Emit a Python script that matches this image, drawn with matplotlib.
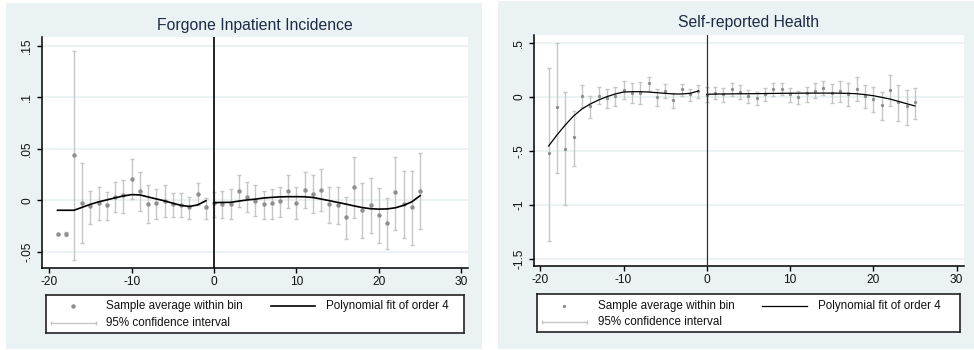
import numpy as np
import matplotlib
matplotlib.use('Agg')
import matplotlib.pyplot as plt
from matplotlib.patches import Rectangle

plt.rcParams['font.family'] = ['Liberation Sans', 'DejaVu Sans']

# Bins (months relative to cutoff)
bins = list(range(-19, 26))

# Forgone inpatient incidence: bin means and 95% CI bounds
inp_mean = [-0.0331, -0.0331, 0.0442, -0.0029, -0.0052, -0.0030, -0.0047, 0.0035, 0.0051,
            0.0209, 0.0089, -0.0036, -0.0023, -0.0010, -0.0036, -0.0046, -0.0062, 0.0061,
            -0.0068, -0.0027, -0.0039, -0.0036, 0.0090, 0.0035, -0.0004, -0.0039, -0.0023,
            -0.0004, 0.0090, -0.0023, 0.0100, 0.0061, 0.0100, -0.0036, -0.0049, -0.0165,
            0.0133, -0.0097, -0.0046, -0.0143, -0.0217, 0.0078, -0.0036, -0.0068, 0.0090]
inp_hi = [-0.0323, -0.0311, 0.1448, 0.0360, 0.0093, 0.0133, 0.0084, 0.0181, 0.0197,
          0.0403, 0.0274, 0.0149, 0.0113, 0.0149, 0.0074, 0.0068, 0.0029, 0.0171,
          0.0019, 0.0084, 0.0093, 0.0107, 0.0246, 0.0178, 0.0149, 0.0093, 0.0113,
          0.0133, 0.0246, 0.0126, 0.0275, 0.0243, 0.0301, 0.0133, 0.0133, 0.0029,
          0.0424, 0.0165, 0.0220, 0.0117, 0.0019, 0.0424, 0.0285, 0.0285, 0.0457]
inp_lo = [-0.0339, -0.0351, -0.0584, -0.0414, -0.0233, -0.0191, -0.0191, -0.0111, -0.0126,
          0.0010, -0.0105, -0.0219, -0.0178, -0.0165, -0.0165, -0.0165, -0.0183, -0.0046,
          -0.0185, -0.0165, -0.0175, -0.0182, -0.0062, -0.0110, -0.0152, -0.0182, -0.0178,
          -0.0159, -0.0078, -0.0178, -0.0078, -0.0120, -0.0104, -0.0223, -0.0233, -0.0379,
          -0.0175, -0.0369, -0.0314, -0.0412, -0.0476, -0.0288, -0.0369, -0.0437, -0.0276]

# Quartic fit, estimated separately on each side of the cutoff
fit_left_x = list(range(-19, 0))
fit_right_x = list(range(0, 26))
inp_fit_left = [-0.0097, -0.0097, -0.0097, -0.0068, -0.0039, -0.0015, 0.0004, 0.0024, 0.0042,
                0.0055, 0.0052, 0.0032, 0.0013, -0.0006, -0.0029, -0.0050, -0.0060, -0.0045,
                -0.0005]
inp_fit_right = [-0.0023, -0.0021, -0.0020, -0.0008, 0.0003, 0.0011, 0.0022, 0.0028, 0.0033,
                 0.0035, 0.0035, 0.0034, 0.0027, 0.0012, -0.0004, -0.0021, -0.0037, -0.0055,
                 -0.0071, -0.0082, -0.0086, -0.0084, -0.0073, -0.0049, -0.0015, 0.0045]

# Self-reported health: bin means and 95% CI bounds
srh_mean = [-0.521, -0.096, -0.478, -0.373, 0.012, -0.083, 0.012, -0.012, 0.012,
            0.065, 0.040, 0.040, 0.127, 0.003, 0.056, -0.028, 0.071, 0.025,
            0.056, 0.022, 0.040, 0.025, 0.074, 0.043, 0.009, -0.006, 0.025,
            0.074, 0.071, 0.025, -0.003, 0.034, 0.059, 0.086, 0.040, 0.059,
            0.025, 0.077, 0.009, -0.019, -0.074, 0.062, -0.049, -0.087, -0.049]
srh_hi = [0.266, 0.497, 0.043, -0.126, 0.111, 0.012, 0.090, 0.071, 0.096,
          0.151, 0.127, 0.142, 0.188, 0.077, 0.117, 0.034, 0.117, 0.071,
          0.111, 0.090, 0.096, 0.086, 0.127, 0.111, 0.065, 0.049, 0.080,
          0.133, 0.127, 0.086, 0.056, 0.096, 0.133, 0.151, 0.117, 0.151,
          0.127, 0.182, 0.111, 0.090, 0.049, 0.201, 0.111, 0.068, 0.085]
srh_lo = [-1.330, -0.700, -1.000, -0.639, -0.090, -0.198, -0.065, -0.099, -0.083,
          -0.022, -0.052, -0.065, 0.059, -0.083, -0.012, -0.099, 0.009, -0.034,
          -0.012, -0.043, -0.022, -0.043, 0.009, -0.022, -0.059, -0.074, -0.037,
          0.012, 0.019, -0.043, -0.068, -0.043, -0.006, 0.019, -0.052, -0.043,
          -0.083, -0.034, -0.105, -0.142, -0.213, -0.080, -0.225, -0.259, -0.204]
srh_fit_left = [-0.454, -0.352, -0.259, -0.176, -0.111, -0.065, -0.028, 0.003, 0.028,
                0.046, 0.049, 0.049, 0.046, 0.040, 0.034, 0.028, 0.028, 0.034, 0.056]
srh_fit_right = [0.025, 0.027, 0.028, 0.029, 0.030, 0.030, 0.031, 0.032, 0.033, 0.034,
                 0.035, 0.035, 0.036, 0.036, 0.036, 0.036, 0.035, 0.034, 0.030, 0.022,
                 0.012, -0.003, -0.019, -0.040, -0.062, -0.083]

titles = ['Forgone Inpatient Incidence', 'Self-reported Health']
xticks = [-20, -10, 0, 10, 20, 30]
inp_yticks = [-0.05, 0, 0.05, 0.1, 0.15]
inp_ylabels = ['-.05', '0', '.05', '.1', '.15']
srh_yticks = [-1.5, -1, -0.5, 0, 0.5]
srh_ylabels = ['-1.5', '-1', '-.5', '0', '.5']
legend_labels = ['Sample average within bin', 'Polynomial fit of order 4', '95% confidence interval']

BG = '#eaf2f3'
DOT = '#8f8f8f'
CI = '#c6c6c6'
TITLE = '#1c2b45'

W, H = 974, 350
fig = plt.figure(figsize=(W / 100, H / 100), dpi=100)
fig.patch.set_facecolor('white')


def px(x0, y0, x1, y1):
    # pixel box (top-left origin) -> figure fraction rect
    return [x0 / W, 1 - y1 / H, (x1 - x0) / W, (y1 - y0) / H]


panels = [
    dict(bg=(6, 3, 482, 349), ax=(41.7, 36.7, 468.3, 267.7), leg=(45.7, 294.7, 464, 332.7),
         xlim=(-20.92, 30.85), ylim=(-0.0655, 0.1589), mean=inp_mean, lo=inp_lo, hi=inp_hi,
         fl=inp_fit_left, fr=inp_fit_right, yt=inp_yticks, yl=inp_ylabels, title=titles[0],
         ms=3.2, lw=1.2, vcol='black', title_y=25.5),
    dict(bg=(498, 1, 974, 349), ax=(533.7, 35, 963.7, 265.7), leg=(537, 294, 959.7, 332.3),
         xlim=(-20.79, 30.86), ylim=(-1.562, 0.574), mean=srh_mean, lo=srh_lo, hi=srh_hi,
         fl=srh_fit_left, fr=srh_fit_right, yt=srh_yticks, yl=srh_ylabels, title=titles[1],
         ms=2.4, lw=0.9, vcol='#333333', title_y=23),
]

for p in panels:
    # panel background sits underneath everything else
    x0, y0, x1, y1 = p['bg']
    fig.patches.append(Rectangle((x0 / W, 1 - y1 / H), (x1 - x0) / W, (y1 - y0) / H,
                                 transform=fig.transFigure, facecolor=BG, edgecolor='none',
                                 zorder=-10))

    ax = fig.add_axes(px(*p['ax']))
    ax.set_facecolor('white')
    ax.set_xlim(*p['xlim'])
    ax.set_ylim(*p['ylim'])
    for t in p['yt']:
        ax.axhline(t, color=BG, lw=1.3, zorder=0)

    mean = np.array(p['mean'])
    yerr = [mean - np.array(p['lo']), np.array(p['hi']) - mean]
    ax.errorbar(bins, mean, yerr=yerr, fmt='none', ecolor=CI, elinewidth=1.0,
                capsize=1.7, capthick=1.0, zorder=2)
    ax.plot(bins, mean, 'o', color=DOT, ms=p['ms'], mew=0, zorder=3)
    ax.plot(fit_left_x, p['fl'], color='black', lw=p['lw'], zorder=4)
    ax.plot(fit_right_x, p['fr'], color='black', lw=p['lw'], zorder=4)
    ax.axvline(0, color=p['vcol'], lw=p['lw'], zorder=5)

    for s in ['top', 'right']:
        ax.spines[s].set_visible(False)
    for s in ['left', 'bottom']:
        ax.spines[s].set_linewidth(1.1)
        ax.spines[s].set_color('black')
    ax.set_xticks(xticks)
    ax.set_xticklabels([str(v) for v in xticks])
    ax.set_yticks(p['yt'])
    ax.set_yticklabels(p['yl'], rotation=90, va='center')
    ax.tick_params(direction='out', length=3.5, width=1, labelsize=8.6, colors='black',
                   labelcolor='#111111', pad=2.5)

    fig.text((p['ax'][0] + p['ax'][2]) / 2 / W, 1 - p['title_y'] / H, p['title'],
             ha='center', va='center', fontsize=11.3, color=TITLE)

    # legend box
    lx0, ly0, lx1, ly1 = p['leg']
    lg = fig.add_axes(px(*p['leg']))
    lg.set_xlim(0, lx1 - lx0)
    lg.set_ylim(ly1 - ly0, 0)
    lg.set_xticks([])
    lg.set_yticks([])
    lg.set_facecolor('white')
    for s in lg.spines.values():
        s.set_linewidth(1.2)
        s.set_color('#222222')
    r1, r2 = 11.5, 28
    lg.plot([27], [r1], 'o', color=DOT, ms=p['ms'], mew=0)
    lg.text(60.5, r1, legend_labels[0], va='center', fontsize=8.4, color='#111111')
    lg.plot([225, 269.5], [r1, r1], color='black', lw=p['lw'])
    lg.text(280.5, r1, legend_labels[1], va='center', fontsize=8.4, color='#111111')
    lg.errorbar([27.5], [r2], xerr=[[22.5], [22.5]], fmt='none', ecolor=CI,
                elinewidth=1.0, capsize=1.7, capthick=1.0)
    lg.text(60.5, r2, legend_labels[2], va='center', fontsize=8.4, color='#111111')

fig.savefig('out.png', dpi=100, facecolor='white')
